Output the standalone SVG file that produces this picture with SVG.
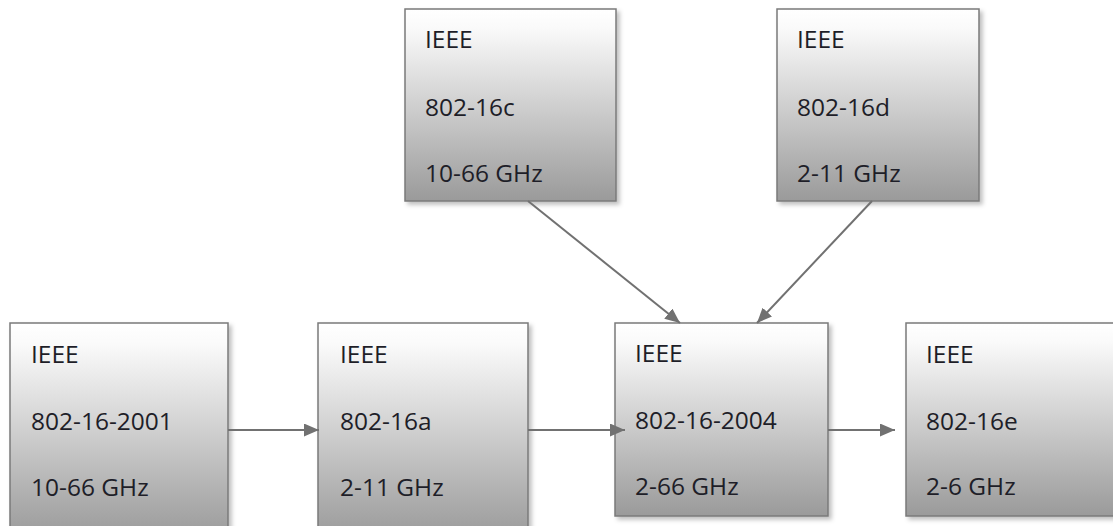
<svg xmlns="http://www.w3.org/2000/svg" width="1113" height="526" viewBox="0 0 1113 526">
<style>
.box{fill:url(#g);stroke:#7a7a7a;stroke-width:1.5;filter:url(#sh)}
.t{font-family:"Open Sans","Liberation Sans",sans-serif;font-size:24.5px;fill:#1e1e28}
.c{stroke:#717171;stroke-width:2;fill:none;marker-end:url(#ah)}
</style>
<defs>
<linearGradient id="g" x1="0" y1="0" x2="0" y2="1">
<stop offset="0" stop-color="#ffffff"/>
<stop offset="0.1" stop-color="#fafafa"/>
<stop offset="1" stop-color="#9a9a9a"/>
</linearGradient>
<filter id="sh" x="-10%" y="-10%" width="130%" height="130%">
<feDropShadow dx="3" dy="3" stdDeviation="2" flood-color="#000" flood-opacity="0.25"/>
</filter>
<marker id="ah" markerUnits="userSpaceOnUse" markerWidth="16" markerHeight="14" refX="15" refY="6.5" orient="auto">
<path d="M0,0 L15,6.5 L0,13 z" fill="#717171"/>
</marker>
</defs>
<rect width="1113" height="526" fill="#fff"/>
<g id="n16c">
<rect class="box" x="405" y="9" width="211" height="192"/>
<text class="t" x="425" y="48">IEEE</text>
<text class="t" x="425" y="116">802-16c</text>
<text class="t" x="425" y="182">10-66 GHz</text>
</g>
<g id="n16d">
<rect class="box" x="777" y="9" width="202" height="192"/>
<text class="t" x="797" y="48">IEEE</text>
<text class="t" x="797" y="116">802-16d</text>
<text class="t" x="797" y="182">2-11 GHz</text>
</g>
<g id="n2001">
<rect class="box" x="10" y="323" width="218" height="215"/>
<text class="t" x="31" y="363">IEEE</text>
<text class="t" x="31" y="430">802-16-2001</text>
<text class="t" x="31" y="496">10-66 GHz</text>
</g>
<g id="n16a">
<rect class="box" x="318" y="323" width="210" height="215"/>
<text class="t" x="340" y="363">IEEE</text>
<text class="t" x="340" y="430">802-16a</text>
<text class="t" x="340" y="496">2-11 GHz</text>
</g>
<g id="n2004">
<rect class="box" x="615" y="323" width="213" height="193"/>
<text class="t" x="635" y="362">IEEE</text>
<text class="t" x="635" y="429">802-16-2004</text>
<text class="t" x="635" y="495">2-66 GHz</text>
</g>
<g id="n16e">
<rect class="box" x="906" y="323" width="215" height="193"/>
<text class="t" x="926" y="363">IEEE</text>
<text class="t" x="926" y="430">802-16e</text>
<text class="t" x="926" y="495">2-6 GHz</text>
</g>
<g id="connectors">
<line class="c" x1="528" y1="201" x2="680" y2="323"/>
<line class="c" x1="872" y1="201" x2="757" y2="323"/>
<line class="c" x1="228" y1="430" x2="319" y2="430"/>
<line class="c" x1="528" y1="430" x2="625" y2="430"/>
<line class="c" x1="828" y1="430" x2="895" y2="430"/>
</g>
</svg>
